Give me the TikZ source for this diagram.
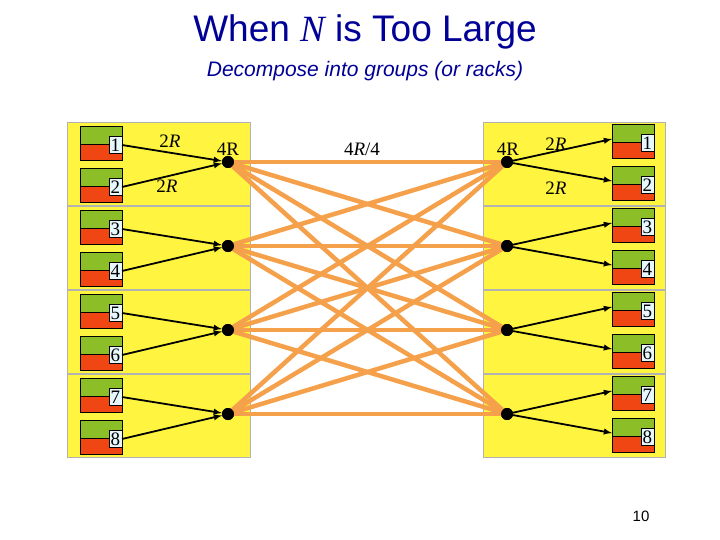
\documentclass[tikz,border=0pt]{standalone}
\usepackage{fontspec}
\setmainfont{Liberation Serif}
\newfontfamily\arialf{Liberation Sans}
\newfontfamily\serf{Liberation Serif}
\begin{document}
\begin{tikzpicture}[x=1pt,y=-1pt,
  grp/.style={draw=gray!60,fill=yellow!75!white,line width=0.8pt},
  lnk/.style={draw=lnkc,line width=4.5pt},
  arr/.style={draw=black,line width=1.8pt,-latex},
  dotn/.style={circle,fill=black,inner sep=0pt,minimum size=12pt},
  lab/.style={draw=black,fill=cyan!10,inner sep=0.5pt,minimum width=13pt,minimum height=17pt,font=\fontsize{19}{19}\selectfont},
  txt/.style={font=\fontsize{19}{19}\selectfont}]
\useasboundingbox (0,0) rectangle (720,540);
\definecolor{qg}{RGB}{140,190,40}
\definecolor{qr}{RGB}{240,70,20}
\definecolor{tblue}{RGB}{0,0,150}
\definecolor{lnkc}{RGB}{245,160,75}
\node[font=\arialf\fontsize{37}{37}\selectfont,text=tblue] (t) at (365,32) {When {\serf\itshape N} is Too Large};
\node[font=\arialf\itshape\fontsize{21}{21}\selectfont,text=tblue] (s) at (365,71) {Decompose into groups (or racks)};
\foreach \g in {0,1,2,3}{
  \pgfmathsetmacro{\yt}{122+84*\g}
  \draw[grp] (67,\yt) rectangle (250,\yt+83);
  \draw[grp] (483,\yt) rectangle (665,\yt+83);
}
\foreach \g in {1,2,3,4}{
  \pgfmathsetmacro{\yd}{78+84*\g}
  \node[dotn] (L\g) at (228,\yd) {};
  \node[dotn] (R\g) at (507,\yd) {};
}
\foreach \a in {1,2,3,4}{\foreach \b in {1,2,3,4}{\draw[lnk] (L\a.center) -- (R\b.center);}}
\foreach \g in {1,2,3,4}{\node[dotn] at (L\g) {}; \node[dotn] at (R\g) {};}
\foreach \i in {1,...,8}{
  \pgfmathsetmacro{\yq}{103+42*\i}
  \fill[qg] (80,\yq-19) rectangle (122,\yq-1);
  \fill[qr] (80,\yq-1) rectangle (122,\yq+15);
  \draw[black,line width=0.8pt] (80,\yq-19) rectangle (122,\yq+15) (80,\yq-1) -- (110,\yq-1);
  \node[lab,anchor=east] (ql\i) at (122,\yq) {\i};
  \fill[qg] (612,\yq-21) rectangle (654,\yq-3);
  \fill[qr] (612,\yq-3) rectangle (654,\yq+13);
  \draw[black,line width=0.8pt] (612,\yq-21) rectangle (654,\yq+13) (612,\yq-3) -- (641,\yq-3);
  \node[lab,anchor=east] (qr\i) at (654,\yq-2) {\i};
  \coordinate (in\i) at (612,\yq-6);
}
\foreach \g [evaluate=\g as \a using int(2*\g-1), evaluate=\g as \b using int(2*\g)] in {1,2,3,4}{
  \draw[arr] (ql\a.east) -- (L\g);
  \draw[arr] (ql\b.east) -- (L\g);
  \draw[arr] (R\g) -- (in\a);
  \draw[arr] (R\g) -- (in\b);
}
\node[txt] (a1) at (170,141) {2\textit{R}};
\node[txt] (a2) at (167,186) {2\textit{R}};
\node[txt] (a3) at (228,149) {4R};
\node[txt] (a4) at (362,149) {4\textit{R}/4};
\node[txt] (a5) at (508,149) {4R};
\node[txt] (a6) at (556,144) {2\textit{R}};
\node[txt] (a7) at (556,188) {2\textit{R}};
\node[font=\arialf\fontsize{15}{15}\selectfont] (pg) at (641,516) {10};
\end{tikzpicture}
\end{document}
